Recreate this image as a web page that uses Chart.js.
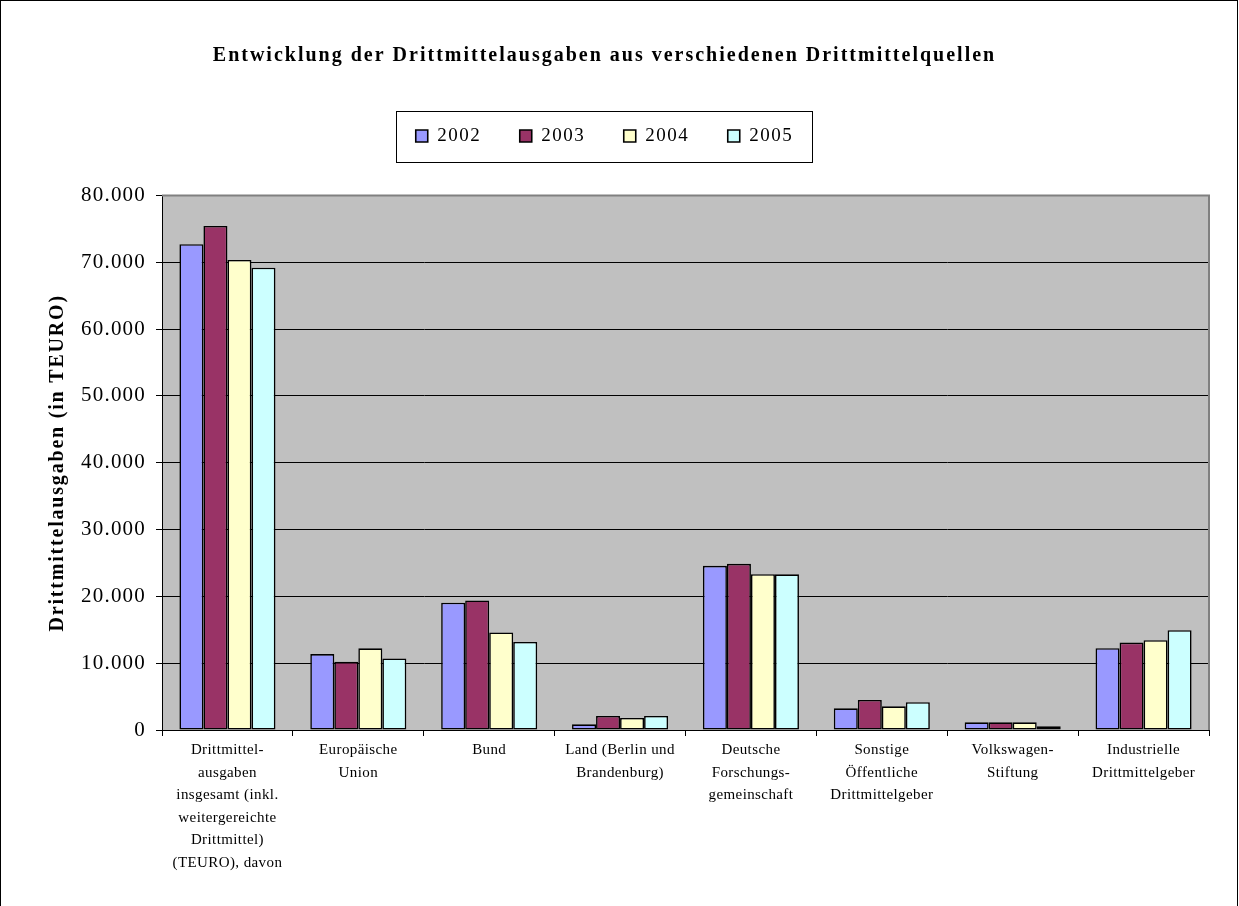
<!DOCTYPE html>
<html>
<head>
<meta charset="utf-8">
<script src="https://cdn.jsdelivr.net/npm/chart.js@4"></script>
<style>
  html, body { margin: 0; padding: 0; background: #fff; }
  #c { display: block; }
</style>
</head>
<body>
<canvas id="c" width="1239" height="906"></canvas>
<script>
// ---- Data ----
const categories = [
  ["Drittmittel-", "ausgaben", "insgesamt (inkl.", "weitergereichte", "Drittmittel)", "(TEURO), davon"],
  ["Europäische", "Union"],
  ["Bund"],
  ["Land (Berlin und", "Brandenburg)"],
  ["Deutsche", "Forschungs-", "gemeinschaft"],
  ["Sonstige", "Öffentliche", "Drittmittelgeber"],
  ["Volkswagen-", "Stiftung"],
  ["Industrielle", "Drittmittelgeber"]
];
const seriesNames = ["2002", "2003", "2004", "2005"];
const values2002 = [72700, 11360, 19050, 850, 24570, 3250, 1150, 12240];
const values2003 = [75450, 10200, 19400, 2100, 24870, 4500, 1150, 13090];
const values2004 = [70350, 12220, 14600, 1800, 23330, 3550, 1150, 13440];
const values2005 = [69200, 10720, 13170, 2100, 23300, 4150, 550, 14940];
const seriesColors = ["#9999FF", "#993366", "#FFFFCC", "#CCFFFF"];
const titleText = "Entwicklung der Drittmittelausgaben aus verschiedenen Drittmittelquellen";
const yTitleText = "Drittmittelausgaben (in TEURO)";
const yMin = 0, yMax = 80000, yStep = 10000;

const SERIF = "'Liberation Serif', 'Times New Roman', serif";
const allValues = [values2002, values2003, values2004, values2005];

function fmtDE(v) {
  return String(Math.round(v)).replace(/\B(?=(\d{3})+(?!\d))/g, ".");
}

function withSpacing(obj, method, spacing) {
  if (!obj || !obj[method] || obj['__sp_' + method]) return;
  const orig = obj[method];
  obj['__sp_' + method] = true;
  obj[method] = function (...args) {
    const ctx = this.ctx;
    const prev = ctx.letterSpacing;
    ctx.letterSpacing = spacing;
    try { return orig.apply(this, args); }
    finally { ctx.letterSpacing = prev || '0px'; }
  };
}

const decorPlugin = {
  id: 'decor',
  beforeInit(chart) {
    const origFit = chart.legend.fit;
    chart.legend.fit = function () {
      origFit.call(this);
      this.height += 40;
    };
    withSpacing(chart.legend, 'fit', '1.5px');
    withSpacing(chart.legend, 'draw', '1.5px');
    withSpacing(chart.titleBlock, 'draw', '2px');
  },
  afterLayout(chart) {
    const y = chart.scales.y, x = chart.scales.x;
    withSpacing(y, 'drawTitle', '1.8px');
    withSpacing(y, 'drawLabels', '1.2px');
    withSpacing(x, 'drawLabels', '0.4px');
  },
  beforeDraw(chart) {
    const ctx = chart.ctx, a = chart.chartArea;
    ctx.save();
    ctx.fillStyle = '#ffffff';
    ctx.fillRect(0, 0, chart.width, chart.height);
    ctx.fillStyle = '#C0C0C0';
    ctx.fillRect(a.left, a.top, a.right - a.left, a.bottom - a.top);
    ctx.restore();
  },
  afterDraw(chart) {
    const ctx = chart.ctx, a = chart.chartArea;
    ctx.save();
    // plot area border top/right in gray
    ctx.strokeStyle = '#808080';
    ctx.lineWidth = 2;
    ctx.beginPath();
    ctx.moveTo(a.left, a.top);
    ctx.lineTo(a.right, a.top);
    ctx.lineTo(a.right, a.bottom);
    ctx.stroke();
    // legend frame
    const hb = chart.legend.legendHitBoxes;
    if (hb && hb.length) {
      let minL = Infinity, maxR = -Infinity, cy = 0;
      hb.forEach(h => { minL = Math.min(minL, h.left); maxR = Math.max(maxR, h.left + h.width); cy += h.top + h.height / 2; });
      cy /= hb.length;
      ctx.strokeStyle = '#000';
      ctx.lineWidth = 1;
      ctx.strokeRect(Math.round(minL - 20) + 0.5, Math.round(cy - 25) + 0.5, Math.round(maxR - minL + 38), 51);
    }
    // outer frame
    ctx.strokeStyle = '#000';
    ctx.lineWidth = 1;
    ctx.strokeRect(0.5, 0.5, chart.width - 2, chart.height + 10);
    ctx.restore();
  }
};

new Chart(document.getElementById('c'), {
  type: 'bar',
  data: {
    labels: categories,
    datasets: seriesNames.map((name, i) => ({
      label: name,
      data: allValues[i],
      backgroundColor: seriesColors[i],
      borderColor: '#000000',
      borderWidth: 1.6,
      borderSkipped: false,
      categoryPercentage: 0.734,
      barPercentage: 1.0
    }))
  },
  options: {
    responsive: false,
    animation: false,
    devicePixelRatio: 1,
    layout: { padding: { left: 0, right: 30, top: 0, bottom: 0 } },
    plugins: {
      title: {
        display: true,
        text: titleText,
        color: '#000',
        font: { family: SERIF, size: 20, weight: 'bold', lineHeight: 1.2 },
        padding: { top: 44, bottom: 20 }
      },
      legend: {
        display: true,
        position: 'top',
        labels: {
          color: '#000',
          font: { family: SERIF, size: 19 },
          boxWidth: 12,
          boxHeight: 12,
          padding: 38.5
        }
      },
      tooltip: { enabled: false }
    },
    scales: {
      x: {
        type: 'category',
        offset: true,
        grid: {
          offset: true,
          drawOnChartArea: false,
          drawTicks: true,
          tickLength: 6,
          color: '#000'
        },
        border: { display: true, color: '#000', width: 1 },
        ticks: {
          color: '#000',
          font: { family: SERIF, size: 15, lineHeight: 1.5 },
          padding: 3,
          maxRotation: 0,
          minRotation: 0,
          autoSkip: false
        },
        afterFit(scale) { scale.height = 176; }
      },
      y: {
        min: yMin,
        max: yMax,
        grid: {
          color: '#000',
          lineWidth: 1,
          drawTicks: true,
          tickLength: 6
        },
        border: { display: true, color: '#000', width: 1 },
        ticks: {
          stepSize: yStep,
          color: '#000',
          font: { family: SERIF, size: 21 },
          padding: 10,
          callback: (v) => fmtDE(v)
        },
        title: {
          display: true,
          text: yTitleText,
          color: '#000',
          font: { family: SERIF, size: 20, weight: 'bold', lineHeight: 1.2 },
          padding: { top: 46, bottom: 0 }
        },
        afterFit(scale) { scale.width = 162; }
      }
    }
  },
  plugins: [decorPlugin]
});
</script>
</body>
</html>
